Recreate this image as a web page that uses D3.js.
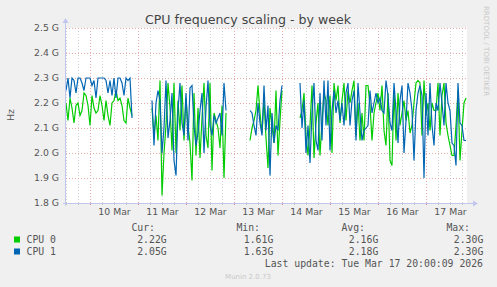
<!DOCTYPE html>
<html>
<head>
<meta charset="utf-8">
<script src="https://cdn.jsdelivr.net/npm/d3@7"></script>
<style>
  html, body { margin: 0; padding: 0; background: #f0f0f0; }
  svg { display: block; }
  text { font-family: "DejaVu Sans", sans-serif; }
  .mono text { font-family: "DejaVu Sans Mono", monospace; }
</style>
</head>
<body>
<div id="chart"></div>
<script>
// ---- data (hourly samples from Mar 9 12:00, in GHz, null = no data) ----
const startTime = new Date(2026, 2, 9, 12, 0);
const endTime = new Date(2026, 2, 17, 20, 0);

const cpu0 = [
  2.20,2.13,2.22,2.18,2.12,2.19,2.20,2.15,2.17,2.24,2.23,2.19,2.11,2.23,2.18,2.16,2.17,
  2.23,2.19,2.13,2.21,2.15,2.11,2.20,2.21,2.25,2.21,2.22,2.19,2.13,2.12,2.22,2.18,2.15,
  null,null,null,null,null,null,null,null,null,
  2.18,2.07,2.15,2.05,2.29,1.83,2.00,2.11,2.28,2.18,2.01,2.28,2.00,2.21,2.09,2.27,2.05,
  2.22,2.11,2.04,1.89,2.24,1.99,2.18,1.98,2.14,2.28,2.07,2.02,2.28,1.93,2.16,2.13,2.10,
  2.02,2.19,1.90,2.16,
  null,null,null,null,null,null,null,null,null,null,null,
  2.05,2.10,2.13,2.17,2.27,2.16,2.08,2.21,2.06,1.94,2.18,2.11,2.04,2.25,1.99,2.13,2.25,
  null,null,null,null,null,null,null,null,
  2.14,2.17,2.24,2.07,1.99,2.11,2.27,1.98,2.12,2.20,1.99,2.13,2.24,2.21,2.11,2.23,2.00,
  2.28,2.21,2.27,2.12,2.21,2.28,2.13,2.25,2.20,2.25,2.29,2.07,
  2.20,2.05,2.16,2.05,2.27,2.27,2.19,2.05,2.16,2.20,2.24,2.17,2.27,2.09,2.03,2.24,1.97,
  1.95,2.25,2.05,2.24,2.11,2.16,2.21,2.13,2.17,2.08,2.11,2.20,2.28,2.29,2.28,2.07,2.29,
  2.15,2.20,2.09,2.20,2.17,2.17,2.28,2.07,2.23,2.28,2.12,2.07,2.03,1.99,1.99,2.11,2.25,
  1.97,2.09,2.20,2.22
];

const cpu1 = [
  2.25,2.30,2.22,2.30,2.29,2.24,2.30,2.30,2.28,2.25,2.30,2.30,2.30,2.27,2.29,2.22,2.30,
  2.30,2.30,2.30,2.29,2.24,2.29,2.23,2.30,2.22,2.30,2.30,2.28,2.23,2.30,2.29,2.30,2.14,
  null,null,null,null,null,null,null,null,null,
  2.21,2.03,2.20,2.25,2.21,2.00,2.10,2.29,2.06,2.13,2.24,1.97,1.91,2.17,2.28,2.12,2.07,
  2.24,2.05,2.26,2.27,2.11,2.03,2.08,2.17,2.24,2.00,2.18,2.29,2.11,2.07,2.15,2.12,2.14,
  2.16,2.07,2.28,2.17,
  null,null,null,null,null,null,null,null,null,null,null,
  2.17,2.16,2.11,2.07,2.20,2.12,2.07,2.27,2.09,2.19,1.91,2.16,2.04,2.11,2.09,2.21,2.27,
  null,null,null,null,null,null,null,null,
  2.28,2.10,2.21,2.00,2.11,1.96,2.16,2.28,2.05,2.01,2.24,2.05,2.29,2.11,2.29,2.01,2.17,
  2.25,2.16,2.21,2.13,2.20,2.11,2.24,2.28,2.11,2.21,2.25,2.05,
  2.28,2.16,2.05,2.09,2.10,2.11,2.25,2.16,2.20,2.24,2.20,2.22,2.17,2.16,2.29,2.23,2.12,
  2.09,2.28,2.17,2.04,2.21,2.27,2.00,2.13,2.28,2.24,2.17,1.97,2.17,2.24,2.27,2.23,1.90,
  2.24,2.07,2.28,2.11,2.03,2.20,2.17,2.28,2.20,2.11,2.28,2.20,2.17,2.04,2.03,1.95,2.28,
  2.12,2.11,2.05,2.05
];

const yTicks = [1.8, 1.9, 2.0, 2.1, 2.2, 2.3, 2.4, 2.5];
const xTickLabels = ["10 Mar", "11 Mar", "12 Mar", "13 Mar", "14 Mar", "15 Mar", "16 Mar", "17 Mar"];

const seriesNames = ["CPU 0", "CPU 1"];
const seriesColors = ["#00cc00", "#0066b3"];
const curValues = ["2.22G", "2.05G"];
const minValues = ["1.61G", "1.63G"];
const avgValues = ["2.16G", "2.18G"];
const maxValues = ["2.30G", "2.30G"];

//---------------------------SPACE SETUP---------------------------------
const W = 497, H = 287;
const plot = { left: 66, right: 466, top: 28, bottom: 203 };

const svg = d3.select("#chart").append("svg")
  .attr("width", W)
  .attr("height", H);

svg.append("rect").attr("width", W).attr("height", H).attr("fill", "#f0f0f0");

const x = d3.scaleTime()
  .domain([startTime, endTime])
  .range([plot.left, plot.right]);

const y = d3.scaleLinear()
  .domain([1.8, 2.5])
  .range([plot.bottom, plot.top]);

svg.append("rect")
  .attr("x", plot.left).attr("y", plot.top)
  .attr("width", plot.right - plot.left + 1)
  .attr("height", plot.bottom - plot.top)
  .attr("fill", "#ffffff");

//---------------------------GRID---------------------------------
const minorTimes = d3.timeHour.every(6).range(startTime, endTime).filter(d => d.getHours() !== 0);
const majorTimes = d3.timeDay.range(startTime, endTime);

const grid = svg.append("g").attr("shape-rendering", "crispEdges");

grid.selectAll(".minor")
  .data(minorTimes)
  .enter().append("line")
    .attr("x1", d => Math.round(x(d)) + 0.5)
    .attr("x2", d => Math.round(x(d)) + 0.5)
    .attr("y1", plot.top)
    .attr("y2", plot.bottom)
    .attr("stroke", "#d0d0d0")
    .attr("stroke-dasharray", "1,2");

grid.selectAll(".major")
  .data(majorTimes)
  .enter().append("line")
    .attr("x1", d => Math.round(x(d)) + 0.5)
    .attr("x2", d => Math.round(x(d)) + 0.5)
    .attr("y1", plot.top)
    .attr("y2", plot.bottom)
    .attr("stroke", "#e4a8a8")
    .attr("stroke-dasharray", "1,2");

grid.selectAll(".hgrid")
  .data(yTicks.slice(1))
  .enter().append("line")
    .attr("x1", plot.left)
    .attr("x2", plot.right + 1)
    .attr("y1", d => Math.round(y(d)) + 0.5)
    .attr("y2", d => Math.round(y(d)) + 0.5)
    .attr("stroke", "#e4a8a8")
    .attr("stroke-dasharray", "1,2");

//---------------------------LINES---------------------------------
const line = d3.line()
  .defined(d => d.v != null)
  .x(d => x(d.t))
  .y(d => y(d.v));

[cpu0, cpu1].forEach((series, i) => {
  const pts = series.map((v, k) => ({ t: d3.timeHour.offset(startTime, k), v: v }));
  svg.append("path")
    .datum(pts)
    .attr("fill", "none")
    .attr("stroke", seriesColors[i])
    .attr("stroke-width", 1.2)
    .attr("d", line);
});

//---------------------------AXIS---------------------------------
const axisColor = "#c0c6ec";
const axes = svg.append("g").attr("shape-rendering", "crispEdges");

axes.selectAll(".xtick")
  .data(minorTimes)
  .enter().append("line")
    .attr("x1", d => Math.round(x(d)) + 0.5)
    .attr("x2", d => Math.round(x(d)) + 0.5)
    .attr("y1", plot.bottom - 1).attr("y2", plot.bottom + 2)
    .attr("stroke", "#c8c8c8");

axes.selectAll(".xtickM")
  .data(majorTimes)
  .enter().append("line")
    .attr("x1", d => Math.round(x(d)) + 0.5)
    .attr("x2", d => Math.round(x(d)) + 0.5)
    .attr("y1", plot.bottom - 1).attr("y2", plot.bottom + 2)
    .attr("stroke", "#e08a8a");

axes.append("line")
  .attr("x1", plot.left - 3).attr("x2", plot.right + 8)
  .attr("y1", plot.bottom + 0.5).attr("y2", plot.bottom + 0.5)
  .attr("stroke", axisColor);

axes.append("line")
  .attr("x1", plot.left - 0.5).attr("x2", plot.left - 0.5)
  .attr("y1", plot.bottom + 3).attr("y2", plot.top - 6)
  .attr("stroke", axisColor);

svg.append("path")
  .attr("d", `M${plot.right + 12},${plot.bottom + 0.5} l-5,-3 l0,6 z`)
  .attr("fill", axisColor);
svg.append("path")
  .attr("d", `M${plot.left - 0.5},${plot.top - 10} l-3,5 l6,0 z`)
  .attr("fill", axisColor);

// x axis labels at noon of each day
const xAxis = d3.axisBottom(x)
  .tickValues(xTickLabels.map((s, i) => new Date(2026, 2, 10 + i, 12)))
  .tickFormat((d, i) => xTickLabels[i])
  .tickSize(0)
  .tickPadding(5);

const gx = svg.append("g")
  .attr("transform", `translate(0, ${plot.bottom})`)
  .call(xAxis);
gx.select(".domain").remove();
gx.selectAll("text")
  .attr("fill", "#555")
  .style("font-size", "9.3px")
  .style("font-family", "DejaVu Sans");

const yAxis = d3.axisLeft(y)
  .tickValues(yTicks)
  .tickFormat(d => d3.format(".1f")(d) + " G")
  .tickSize(0)
  .tickPadding(7);

const gy = svg.append("g")
  .attr("transform", `translate(${plot.left}, 0)`)
  .call(yAxis);
gy.select(".domain").remove();
gy.selectAll("text")
  .attr("fill", "#555")
  .style("font-size", "9.3px")
  .style("font-family", "DejaVu Sans");

//---------------------------TEXTS---------------------------------
svg.append("text")
  .attr("x", 248).attr("y", 24)
  .attr("text-anchor", "middle")
  .attr("fill", "#444")
  .style("font-size", "12.6px")
  .text("CPU frequency scaling - by week");

svg.append("text")
  .attr("transform", "translate(14, 115) rotate(-90)")
  .attr("text-anchor", "middle")
  .attr("fill", "#555")
  .style("font-size", "9.5px")
  .text("Hz");

svg.append("text")
  .attr("transform", "translate(484, 6) rotate(90)")
  .attr("fill", "#c8c8c8")
  .style("font-size", "7px")
  .text("RRDTOOL / TOBI OETIKER");

//---------------------------LEGEND---------------------------------
const legend = svg.append("g").attr("class", "mono").style("font-size", "9.8px");
const colEnds = [166.7, 273.3, 378.3, 483.3];
const headers = ["Cur:", "Min:", "Avg:", "Max:"];
const headerEnds = [155, 260, 365, 470];

headers.forEach((h, i) => {
  legend.append("text")
    .attr("x", headerEnds[i]).attr("y", 231)
    .attr("text-anchor", "end")
    .attr("fill", "#555")
    .text(h);
});

const cols = [curValues, minValues, avgValues, maxValues];
seriesNames.forEach((name, r) => {
  const yy = 243 + r * 12;
  legend.append("rect")
    .attr("x", 14).attr("y", yy - 6.5)
    .attr("width", 6).attr("height", 6)
    .attr("fill", seriesColors[r]);
  legend.append("text")
    .attr("x", 26.5).attr("y", yy)
    .attr("fill", "#555")
    .text(name);
  cols.forEach((col, c) => {
    legend.append("text")
      .attr("x", colEnds[c]).attr("y", yy)
      .attr("text-anchor", "end")
      .attr("fill", "#555")
      .text(col[r]);
  });
});

legend.append("text")
  .attr("x", 483).attr("y", 267)
  .attr("text-anchor", "end")
  .attr("fill", "#555")
  .text("Last update: Tue Mar 17 20:00:09 2026");

svg.append("text")
  .attr("x", 248).attr("y", 279)
  .attr("text-anchor", "middle")
  .attr("fill", "#c8c8c8")
  .style("font-size", "7px")
  .text("Munin 2.0.73");
</script>
</body>
</html>
